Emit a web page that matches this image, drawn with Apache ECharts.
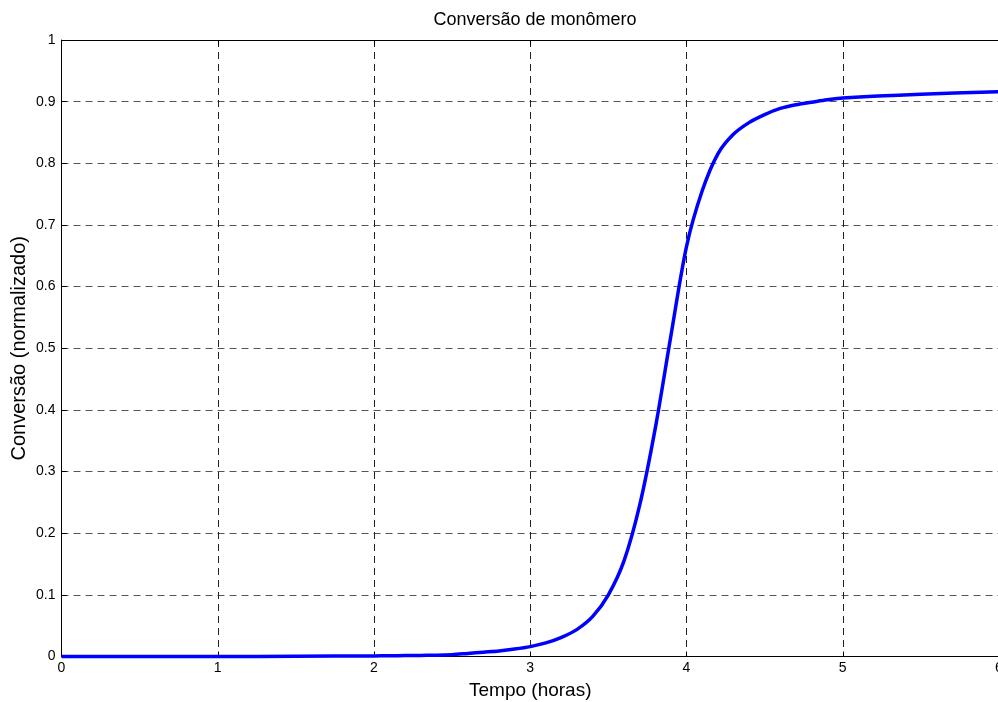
<!DOCTYPE html>
<html>
<head>
<meta charset="utf-8">
<script src="https://cdn.jsdelivr.net/npm/echarts@6/dist/echarts.min.js"></script>
<style>html,body{margin:0;padding:0;background:#fff}#c{width:998px;height:702px}</style>
</head>
<body>
<div id="c"></div>
<script>
const titleText = 'Conversão de monômero';
const xName = 'Tempo (horas)';
const yName = 'Conversão (normalizado)';
const tempo = [0, 0.5, 1.0, 1.5, 2.0, 2.1, 2.2, 2.3, 2.4, 2.5, 2.6, 2.7, 2.8, 2.9, 3.0, 3.1, 3.2, 3.3, 3.4, 3.5, 3.6, 3.7, 3.8, 3.9, 4.0, 4.1, 4.2, 4.3, 4.4, 4.5, 4.6, 4.7, 4.8, 4.9, 5.0, 5.5, 6.0];
const conversao = [0, 0, 0, 0.0005, 0.001, 0.0012, 0.0015, 0.0018, 0.002, 0.003, 0.005, 0.007, 0.009, 0.012, 0.016, 0.022, 0.031, 0.044, 0.065, 0.1, 0.155, 0.245, 0.37, 0.52, 0.665, 0.755, 0.815, 0.847, 0.866, 0.879, 0.889, 0.895, 0.899, 0.903, 0.906, 0.912, 0.916];

const font = 'Liberation Sans, Arial, Helvetica, sans-serif';
const chart = echarts.init(document.getElementById('c'), null, {renderer: 'canvas'});
chart.setOption({
  animation: false,
  backgroundColor: '#fff',
  title: {
    text: titleText, left: 530, top: 6, textAlign: 'center',
    textStyle: {fontFamily: font, fontSize: 18, fontWeight: 'normal', color: '#000'}
  },
  grid: {left: 61.5, right: -1, top: 40, bottom: 45.5, outerBoundsMode: 'none', containLabel: false},
  xAxis: [{
    type: 'value', min: 0, max: 6, interval: 1, position: 'bottom',
    name: xName, nameLocation: 'middle', nameGap: 25, nameMoveOverlap: false,
    nameTextStyle: {fontFamily: font, fontSize: 19, color: '#000'},
    axisLine: {show: true, onZero: false, lineStyle: {color: '#000', width: 1}},
    axisTick: {show: true, inside: true, length: 5, lineStyle: {color: '#000'}},
    axisLabel: {fontFamily: font, fontSize: 14, color: '#000', margin: 5, showMaxLabel: true},
    splitLine: {show: true, lineStyle: {color: '#222', width: 1, type: [7, 5]}}
  }, {
    type: 'value', min: 0, max: 6, interval: 1, position: 'top',
    axisLine: {show: true, onZero: false, lineStyle: {color: '#000', width: 1}},
    axisTick: {show: true, inside: true, length: 5, lineStyle: {color: '#000'}},
    axisLabel: {show: false}, splitLine: {show: false}
  }],
  yAxis: [{
    type: 'value', min: 0, max: 1, interval: 0.1, position: 'left',
    name: yName, nameLocation: 'middle', nameGap: 32, nameRotate: 90, nameMoveOverlap: false,
    nameTextStyle: {fontFamily: font, fontSize: 20, color: '#000'},
    axisLine: {show: true, onZero: false, lineStyle: {color: '#000', width: 1}},
    axisTick: {show: true, inside: true, length: 5, lineStyle: {color: '#000'}},
    axisLabel: {fontFamily: font, fontSize: 14, color: '#000', margin: 6,
      formatter: v => String(Math.round(v * 10) / 10)},
    splitLine: {show: true, lineStyle: {color: '#555', width: 1, type: [7, 5]}}
  }],
  series: [{
    type: 'line', xAxisIndex: 0, yAxisIndex: 0,
    data: tempo.map((t, i) => [t, conversao[i]]),
    showSymbol: false, symbol: 'none', smooth: 0.3,
    lineStyle: {color: '#0000ff', width: 3.5}, clip: false
  }]
});
</script>
</body>
</html>
